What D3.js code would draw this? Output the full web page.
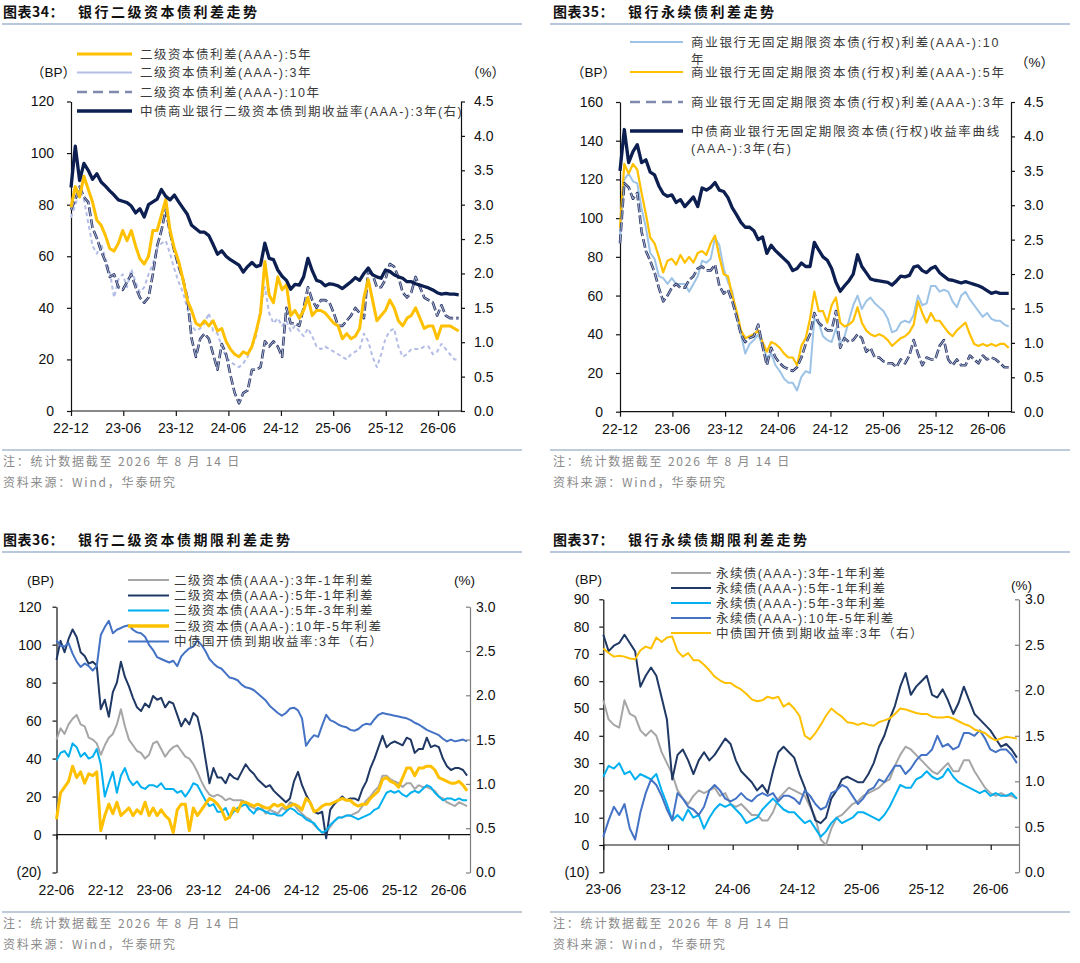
<!DOCTYPE html>
<html>
<head>
<meta charset="utf-8">
<script src="https://cdn.jsdelivr.net/npm/d3@7"></script>
<style>
  body { margin: 0; background: #fff; }
  svg { display: block; }
</style>
</head>
<body>
<svg id="chart" width="1080" height="963"></svg>
<script>
var STEP = 15;

// 图表34 银行二级资本债利差走势, from 2022-12-01
var p34Start = "2022-12-01";
var p34Spread5Y = [79,87,83,91,86,81,74,72,68,63, 62,65,70,66,70,64,59,57,60,70, 70,76,82,70,63,58,51,43,39,34,
  33,35,33,35,31,32,27,24,22,21, 23,22,25,31,38,58,45,42,52,47, 49,37,39,36,39,44,37,39,39,38,
  36,34,33,28,30,28,29,32,44,51, 43,35,37,39,43,40,35,33,36,37, 40,36,32,33,33,28,33,33,33,32, 31];
var p34Spread3Y = [75,80,85,82,73,64,61,65,59,54, 44,51,53,48,55,50,46,48,53,57, 63,65,66,61,55,50,46,40,33,31,
  32,34,38,31,30,25,21,19,18,17, 18.5,21,25,29,40,48,38,34,36,33, 35,31,33,31,29,32,29,25,24,25,
  24,23,22,21,20,22,23,24,30,27, 21,17,22,28,31,32,25,21,22,24, 24,24,25,25,22,23,26,24,22,20, 20];
var p34Spread10Y = [78,82,87,83,81,71,67,62,58,52, 53,48,47,50,53,48,44,42,44,53, 64,70,78,69,62,56,51,44,28,21,
  28,30,28,22,16,26,22,14,7,3, 7,8,16,16,17,27,25,27,25,21, 40,34,34,33,40,48,43,40,43,43,
  42,38,33,33,35,37,40,38,36,54, 53,48,48,51,57,56,52,46,44,46, 52,48,44,43,42,37,41,37,36,36, 36];
var p34Yield3Y = [3.25,3.85,3.35,3.6,3.5,3.37,3.45,3.33,3.27,3.2, 3.14,3.07,3.05,3.03,2.98,2.88,2.94,2.82,3.0,3.04,
  3.08,3.22,3.12,3.07,3.14,3.04,2.95,2.86,2.7,2.65, 2.6,2.6,2.55,2.42,2.28,2.33,2.25,2.2,2.16,2.12,
  2.02,2.1,2.16,2.1,2.12,2.44,2.22,2.2,2.05,1.96, 1.9,1.77,1.84,1.83,1.95,2.22,2.04,1.9,1.88,1.82,
  1.85,1.84,1.82,1.78,1.83,1.88,1.94,1.9,2.0,2.08, 1.98,1.95,1.93,2.05,2.03,1.98,1.95,1.93,1.88,1.88,
  1.85,1.83,1.81,1.79,1.76,1.72,1.7,1.71,1.7,1.7, 1.69];

// 图表35 银行永续债利差走势, from 2022-12-01
var p35Start = "2022-12-01";
var p35Spread10Y = [90,120,123,119,118,105,95,82,79,70, 69,66,69,66,66,66,62,66,70,78, 77,79,90,86,74,67,62,50,40,30,
  35,37,40,34,28,30,24,21,17,15, 15,11,18,21,20,48,46,39,37,36, 43,35,39,47,55,60,53,57,59,56,
  54,52,48,41,42,46,47,46,50,60, 55,56,65,65,62,63,62,57,54,60, 62,58,55,52,49,51,48,47,47,45, 44];
var p35Spread5Y = [95,128,123,128,125,113,102,90,87,80, 72,78,79,76,81,77,80,77,82,83, 81,87,91,80,71,70,60,52,42,38,
  39,40,42,36,31,36,35,33,30,28, 28,24,34,38,48,62,52,52,46,55, 59,46,44,45,47,54,46,42,40,39,
  40,39,37,34,36,38,39,41,45,57, 51,46,51,47,47,44,41,39,42,44, 46,40,35,34,35,34,35,34,35,35, 33];
var p35Spread3Y = [87,118,116,110,113,93,83,78,72,64, 57,60,64,66,64,64,68,70,74,75, 73,73,76,65,61,63,57,49,40,36,
  38,39,45,34,24,33,28,25,23,22, 21,23,28,35,40,51,46,44,42,42, 52,33,38,36,37,40,38,31,33,28,
  28,26,25,25,23,27,25,29,37,30, 24,28,27,27,34,37,27,24,27,24, 24,29,27,25,29,27,28,27,25,23, 23];
var p35Yield3Y = [3.5,4.1,3.62,3.78,3.88,3.62,3.66,3.48,3.44,3.28, 3.17,3.13,3.15,3.04,3.08,2.98,3.05,3.12,2.98,3.25,
  3.22,3.26,3.33,3.22,3.2,3.11,2.96,2.86,2.75,2.68, 2.68,2.63,2.5,2.54,2.3,2.42,2.34,2.28,2.22,2.16,
  2.05,2.08,2.16,2.11,2.11,2.46,2.35,2.25,2.2,2.08, 1.88,1.75,1.83,1.9,2.0,2.28,2.11,2.02,1.93,1.91,
  1.9,1.89,1.88,1.84,1.9,1.97,1.96,1.98,2.1,2.12, 2.05,2.02,2.08,2.11,2.02,1.97,1.92,1.91,1.89,1.87,
  1.89,1.87,1.85,1.83,1.8,1.76,1.72,1.74,1.72,1.72, 1.72];

// 图表36 银行二级资本债期限利差走势, from 2022-06-01
var p36Start = "2022-06-01";
var p36Term31 = [50,56,53,58,61,63,58,57,51,50, 48,42,47,51,53,58,66,57,50,47, 44,43,40,42,48,49,45,41,44,46,
  47,44,41,40,37,33,28,24,21,20, 21,20,18,19,18,18,18,17,15,14, 13,14,11,13,12,11,14,13,17,16,
  13,11,9,8,5,3,1,1,4,7, 9,9,10,10,11,12,15,18,20,23, 25,31,31,29,28,27,25,27,27,24,
  26,25,25,24,23,20,19,17,16,15, 17,16,15];
var p36Term51 = [92,102,96,103,108,104,96,94,90,91, 89,66,71,62,75,80,91,83,78,72, 67,65,69,67,73,71,72,67,70,69,
  63,57,61,58,64,62,53,40,27,35, 30,30,27,32,30,29,33,37,34,32, 29,27,25,26,23,21,19,17,19,28,
  33,26,21,17,12,11,12,-2,13,16, 18,20,18,19,19,18,24,28,35,40, 46,52,46,48,49,48,47,51,50,43,
  45,45,51,46,47,46,40,36,34,35, 35,34,31];
var p36Term53 = [39,43,44,41,48,46,41,43,40,41, 45,37,20,27,33,22,31,35,29,26, 28,25,24,26,26,25,27,24,24,24,
  22,23,20,23,27,26,22,18,15,16, 12,12,14,9,12,14,15,16,13,11, 14,13,12,11,11,10,10,12,14,13,
  11,10,8,7,6,3,1,2,5,7, 9,9,10,10,9,8,9,10,11,13, 14,18,22,23,22,23,21,20,22,23,
  22,24,26,25,22,20,18,19,19,18, 19,18,18];
var p36Term105 = [8,22,25,28,36,30,33,27,32,31, 33,2,10,16,11,17,10,12,14,10, 13,11,17,10,14,10,13,10,8,1,
  13,16,16,2,14,10,13,16,19,18, 16,13,8,9,14,12,17,17,16,15, 16,15,14,14,16,15,16,14,15,16,
  15,13,19,17,12,13,15,16,16,17, 18,19,18,18,16,15,16,16,19,21, 23,29,30,28,27,25,30,35,35,31,
  35,35,36,36,34,30,29,28,27,27, 28,26,23];
var p36CdbYield = [2.62,2.56,2.55,2.59,2.47,2.38,2.32,2.36,2.33,2.28, 2.33,2.68,2.77,2.84,2.7,2.74,2.76,2.78,2.79,2.74,
  2.71,2.7,2.66,2.57,2.51,2.43,2.41,2.39,2.37,2.39, 2.33,2.44,2.49,2.53,2.55,2.62,2.57,2.5,2.41,2.36,
  2.32,2.3,2.25,2.2,2.19,2.17,2.12,2.09,2.08,2.06, 2.02,1.98,1.94,1.88,1.84,1.8,1.77,1.8,1.85,1.86,
  1.83,1.74,1.43,1.5,1.55,1.53,1.66,1.78,1.72,1.7, 1.67,1.65,1.64,1.61,1.6,1.62,1.66,1.68,1.67,1.73,
  1.78,1.8,1.79,1.78,1.77,1.76,1.75,1.74,1.72,1.69, 1.67,1.64,1.61,1.59,1.57,1.55,1.51,1.48,1.5,1.48,
  1.49,1.5,1.48];

// 图表37 银行永续债期限利差走势, from 2023-06-01
var p37Start = "2023-06-01";
var p37Term31 = [53,46,44,43,53,48,47,42,40,42, 40,34,30,26,20,17,15,18,20,19, 20,21,18,19,15,14,15,13,11,11,
  9,9,12,17,19,21,20,19,18,14, 10,2,0,6,10,11,13,15,16,18, 19,20,21,23,24,29,33,36,35,33,
  31,29,27,26,28,30,27,27,31,31, 27,24,21,19,18,19,18,18,17];
var p37Term51 = [77,71,73,74,77,74,71,58,62,65, 62,54,46,24,33,35,31,26,31,34, 31,33,36,39,37,31,27,25,23,20,
  22,19,27,34,36,34,32,26,21,15, 9,8,10,17,20,24,25,24,23,23, 26,30,36,40,46,51,58,63,55,58,
  60,62,55,54,57,53,48,52,58,53, 48,46,44,42,39,36,37,35,32];
var p37Term53 = [25,29,28,30,26,27,24,26,25,24, 26,20,15,9,11,9,13,10,11,6, 10,13,15,14,15,13,11,8,9,10,
  13,15,17,15,13,12,12,10,8,9, 6,3,5,8,10,8,9,10,12,12, 11,10,9,11,14,18,22,21,21,24,
  25,27,25,24,25,28,25,23,22,21, 20,19,20,18,19,18,18,19,17];
var p37Term105 = [3,9,14,11,15,6,2,12,19,24, 22,18,13,9,19,17,14,13,11,14, 20,22,20,17,16,17,19,17,16,18,
  19,18,19,16,18,18,17,15,20,18, 15,13,14,19,20,22,21,18,15,17, 20,21,24,23,26,29,29,26,28,31,
  33,33,35,40,36,37,35,36,41,41, 40,42,39,35,34,35,35,33,30];
var p37CdbYield = [2.46,2.41,2.37,2.38,2.37,2.35,2.34,2.44,2.48,2.46, 2.58,2.53,2.58,2.59,2.43,2.37,2.41,2.33,2.33,2.28,
  2.22,2.15,2.11,2.08,2.08,2.04,2.01,1.96,1.9,1.88, 1.89,1.93,1.91,1.93,1.82,1.86,1.8,1.72,1.5,1.46,
  1.53,1.62,1.72,1.8,1.75,1.71,1.65,1.64,1.62,1.64, 1.62,1.61,1.65,1.67,1.69,1.74,1.8,1.79,1.77,1.75,
  1.74,1.74,1.71,1.7,1.7,1.71,1.69,1.66,1.63,1.61, 1.57,1.55,1.53,1.48,1.45,1.47,1.49,1.48,1.47];

// tick labels
var ticks34 = ["2022-12","2023-06","2023-12","2024-06","2024-12","2025-06","2025-12","2026-06"];
var ticks36 = ["2022-06","2022-12","2023-06","2023-12","2024-06","2024-12","2025-06","2025-12","2026-06"];
var ticks37 = ["2023-06","2023-12","2024-06","2024-12","2025-06","2025-12","2026-06"];
var noteText = "注：统计数据截至 2026 年 8 月 14 日";
var sourceText = "资料来源：Wind，华泰研究";

// ---- drawing ----
var FONT = '"Liberation Sans","Noto Sans CJK SC",sans-serif';
var CJK = '"Noto Sans CJK SC","Liberation Sans",sans-serif';
var svg = d3.select("#chart");
var parseDay = d3.timeParse("%Y-%m-%d");
var parseMonth = d3.timeParse("%Y-%m");
var fmtTick = d3.timeFormat("%y-%m");

function makeDates(start, n) {
  var s = parseDay(start);
  return d3.range(n).map(function(i) { return d3.timeDay.offset(s, i * STEP); });
}
function paren(v) { return v < 0 ? "(" + Math.abs(v) + ")" : String(v); }

function drawPanel(p) {
  var g = svg.append("g");

  // title + rule
  g.append("text").attr("x", p.tx).attr("y", p.ty)
    .style("font-family", CJK).style("font-weight", 700).style("font-size", "14px")
    .style("letter-spacing", "0.5px").attr("fill", "#111").text(p.num);
  g.append("text").attr("x", p.tx + 75).attr("y", p.ty)
    .style("font-family", CJK).style("font-weight", 700).style("font-size", "14px")
    .style("letter-spacing", "2.5px").attr("fill", "#111").text(p.title);
  g.append("line").attr("x1", p.ruleX1).attr("x2", p.ruleX2)
    .attr("y1", p.ruleY).attr("y2", p.ruleY)
    .attr("stroke", "#9fb6d2").attr("stroke-width", 1.3);

  var x = d3.scaleTime().domain([parseDay(p.xStart), parseDay(p.xEnd)]).range([p.left, p.right]);
  var yL = d3.scaleLinear().domain(p.leftDomain).range([p.bottom, p.top]);
  var yR = d3.scaleLinear().domain(p.rightDomain).range([p.bottom, p.top]);

  // axes
  var axL = g.append("g").attr("transform", "translate(" + p.left + ",0)")
    .call(d3.axisLeft(yL).tickValues(p.leftTicks).tickFormat(paren)
      .tickSize(4).tickSizeOuter(0).tickPadding(p.leftPad));
  var axR = g.append("g").attr("transform", "translate(" + p.right + ",0)")
    .call(d3.axisRight(yR).tickValues(p.rightTicks).tickFormat(d3.format(".1f"))
      .tickSize(p.rightTickSize).tickSizeOuter(0).tickPadding(p.rightPad));
  var xTicks = p.xTicks.map(parseMonth);
  var axX = g.append("g").attr("transform", "translate(0," + yL(0) + ")")
    .call(d3.axisBottom(x).tickValues(xTicks).tickFormat("").tickSize(5).tickSizeOuter(0));
  axX.select(".domain").attr("d", "M" + p.left + ",0H" + p.right);
  g.selectAll(".xlab").data(xTicks).enter().append("text")
    .attr("x", function(d) { return x(d); }).attr("y", p.bottom + 22)
    .attr("text-anchor", "middle").style("font-family", FONT).style("font-size", "14px")
    .attr("fill", "#111").text(fmtTick);

  [axL, axR, axX].forEach(function(a) {
    a.selectAll("text").style("font-family", FONT).style("font-size", "14px").attr("fill", "#111");
    a.selectAll("line, path").attr("stroke", "#111").attr("stroke-width", 1.2);
  });
  if (p.rightGray) axR.selectAll("line, path").attr("stroke", "#7f7f7f");

  // series
  p.series.forEach(function(s) {
    var dates = makeDates(p.xStart, s.values.length);
    var ys = s.axis === "R" ? yR : yL;
    var line = d3.line().x(function(d, i) { return x(dates[i]); }).y(function(d) { return ys(d); });
    var path = g.append("path").datum(s.values).attr("d", line)
      .attr("fill", "none").attr("stroke", s.color).attr("stroke-width", s.width)
      .attr("stroke-linejoin", "round");
    if (s.dash) path.attr("stroke-dasharray", s.dash);
    if (s.inner) {
      g.append("path").datum(s.values).attr("d", line)
        .attr("fill", "none").attr("stroke", s.inner).attr("stroke-width", 0.9)
        .attr("stroke-dasharray", s.dash);
    }
  });

  // legend
  p.series.forEach(function(s, k) {
    var ly = p.legendY[k];
    g.append("line").attr("x1", p.legX1).attr("x2", p.legX2).attr("y1", ly).attr("y2", ly)
      .attr("stroke", s.legColor || s.color).attr("stroke-width", s.legWidth || s.width)
      .attr("stroke-dasharray", s.legDash || null);
    s.label.forEach(function(t, j) {
      g.append("text").attr("x", p.legText).attr("y", ly + j * 17).attr("dy", "0.36em")
        .style("font-family", FONT).style("font-size", "12.5px")
        .style("letter-spacing", p.legSpacing + "px").attr("fill", "#3a3a3a").text(t);
    });
  });

  // units
  g.append("text").attr("x", p.unitL[0]).attr("y", p.unitL[1]).attr("dy", "0.36em")
    .style("font-family", FONT).style("font-size", "13.5px").attr("fill", "#111").text(p.unitL[2]);
  g.append("text").attr("x", p.unitR[0]).attr("y", p.unitR[1]).attr("dy", "0.36em")
    .style("font-family", FONT).style("font-size", "13.5px").attr("fill", "#111").text(p.unitR[2]);

  // footnotes
  g.append("line").attr("x1", p.ruleX1).attr("x2", p.ruleX2).attr("y1", p.footY).attr("y2", p.footY)
    .attr("stroke", "#a9bacd").attr("stroke-width", 1.3);
  [noteText, sourceText].forEach(function(t, j) {
    g.append("text").attr("x", p.tx).attr("y", p.footY + 12 + j * 21).attr("dy", "0.36em")
      .style("font-family", CJK).style("font-size", "12px").style("letter-spacing", "1.8px")
      .attr("fill", "#8a8a8a").text(t);
  });
}

var NAVY = "#0c1f50";

drawPanel({
  num: "图表34：", title: "银行二级资本债利差走势", tx: 3, ty: 17,
  ruleX1: 2, ruleX2: 522, ruleY: 24, footY: 450,
  xStart: p34Start, xEnd: "2026-08-20", left: 71, right: 461, top: 101.5, bottom: 411,
  leftDomain: [0, 120], rightDomain: [0, 4.5], leftTicks: d3.range(0, 121, 20),
  rightTicks: d3.range(0, 4.51, 0.5), leftPad: 13, rightPad: 9, rightTickSize: 4,
  xTicks: ticks34,
  legX1: 77, legX2: 132, legText: 140, legSpacing: 1.5, legendY: [72.5, 92, 54, 111],
  unitL: [31, 72, "（BP）"], unitR: [466, 72, "（%）"],
  series: [
    { values: p34Spread3Y, axis: "L", color: "#b3bde6", width: 2, dash: "4,3",
      label: ["二级资本债利差(AAA-):3年"] },
    { values: p34Spread10Y, axis: "L", color: "#2b3866", width: 2.6, dash: "9,3", inner: "#b7c0de",
      legColor: "#7f8aae", legWidth: 2.5, legDash: "10,6", label: ["二级资本债利差(AAA-):10年"] },
    { values: p34Spread5Y, axis: "L", color: "#ffc000", width: 3,
      label: ["二级资本债利差(AAA-):5年"] },
    { values: p34Yield3Y, axis: "R", color: NAVY, width: 3.3,
      label: ["中债商业银行二级资本债到期收益率(AAA-):3年(右)"] }
  ]
});

drawPanel({
  num: "图表35：", title: "银行永续债利差走势", tx: 553, ty: 17,
  ruleX1: 550, ruleX2: 1070, ruleY: 24, footY: 450,
  xStart: p35Start, xEnd: "2026-08-20", left: 620, right: 1011, top: 102, bottom: 411.7,
  leftDomain: [0, 160], rightDomain: [0, 4.5], leftTicks: d3.range(0, 161, 20),
  rightTicks: d3.range(0, 4.51, 0.5), leftPad: 13, rightPad: 9, rightTickSize: 4,
  xTicks: ticks34,
  legX1: 630, legX2: 683, legText: 691, legSpacing: 1.7, legendY: [42, 72, 102, 131],
  unitL: [571, 72, "（BP）"], unitR: [1015, 62, "（%）"],
  series: [
    { values: p35Spread10Y, axis: "L", color: "#9dc3e6", width: 2,
      label: ["商业银行无固定期限资本债(行权)利差(AAA-):10", "年"] },
    { values: p35Spread5Y, axis: "L", color: "#ffc000", width: 2.2,
      label: ["商业银行无固定期限资本债(行权)利差(AAA-):5年"] },
    { values: p35Spread3Y, axis: "L", color: "#2b3866", width: 2.6, dash: "9,3", inner: "#b7c0de",
      legColor: "#7f8aae", legWidth: 2.5, legDash: "10,6",
      label: ["商业银行无固定期限资本债(行权)利差(AAA-):3年"] },
    { values: p35Yield3Y, axis: "R", color: NAVY, width: 3.3,
      label: ["中债商业银行无固定期限资本债(行权)收益率曲线", "(AAA-):3年(右)"] }
  ]
});

drawPanel({
  num: "图表36：", title: "银行二级资本债期限利差走势", tx: 3, ty: 545,
  ruleX1: 2, ruleX2: 522, ruleY: 552, footY: 912,
  xStart: p36Start, xEnd: "2026-08-20", left: 56.5, right: 470, top: 606.7, bottom: 872.5,
  leftDomain: [-20, 120], rightDomain: [0, 3], leftTicks: d3.range(-20, 121, 20),
  rightTicks: d3.range(0, 3.01, 0.5), leftPad: 11, rightPad: 6, rightTickSize: -4, rightGray: true,
  xTicks: ticks36,
  legX1: 128, legX2: 169, legText: 174, legSpacing: 1.5, legendY: [580, 595.5, 610.5, 626, 641.5],
  unitL: [27, 580, "(BP)"], unitR: [454, 580, "(%)"],
  series: [
    { values: p36Term31, axis: "L", color: "#a6a6a6", width: 2, label: ["二级资本债(AAA-):3年-1年利差"] },
    { values: p36Term51, axis: "L", color: "#1f3864", width: 2, label: ["二级资本债(AAA-):5年-1年利差"] },
    { values: p36Term53, axis: "L", color: "#00b0f0", width: 2, label: ["二级资本债(AAA-):5年-3年利差"] },
    { values: p36Term105, axis: "L", color: "#ffc000", width: 3, legWidth: 3.5, label: ["二级资本债(AAA-):10年-5年利差"] },
    { values: p36CdbYield, axis: "R", color: "#4472c4", width: 2, label: ["中债国开债到期收益率:3年（右）"] }
  ]
});

drawPanel({
  num: "图表37：", title: "银行永续债期限利差走势", tx: 553, ty: 545,
  ruleX1: 550, ruleX2: 1070, ruleY: 552, footY: 912,
  xStart: p37Start, xEnd: "2026-08-20", left: 603.3, right: 1019, top: 599.3, bottom: 872.3,
  leftDomain: [-10, 90], rightDomain: [0, 3], leftTicks: d3.range(-10, 91, 10),
  rightTicks: d3.range(0, 3.01, 0.5), leftPad: 10, rightPad: 6, rightTickSize: -4, rightGray: true,
  xTicks: ticks37,
  legX1: 671, legX2: 711, legText: 716, legSpacing: 1.4, legendY: [573, 588, 603, 618, 633],
  unitL: [575, 579, "(BP)"], unitR: [1011, 585, "(%)"],
  series: [
    { values: p37Term31, axis: "L", color: "#a6a6a6", width: 2, label: ["永续债(AAA-):3年-1年利差"] },
    { values: p37Term51, axis: "L", color: "#1f3864", width: 2, label: ["永续债(AAA-):5年-1年利差"] },
    { values: p37Term53, axis: "L", color: "#00b0f0", width: 2, label: ["永续债(AAA-):5年-3年利差"] },
    { values: p37Term105, axis: "L", color: "#4472c4", width: 2, label: ["永续债(AAA-):10年-5年利差"] },
    { values: p37CdbYield, axis: "R", color: "#ffc000", width: 2, label: ["中债国开债到期收益率:3年（右）"] }
  ]
});
</script>
</body>
</html>
